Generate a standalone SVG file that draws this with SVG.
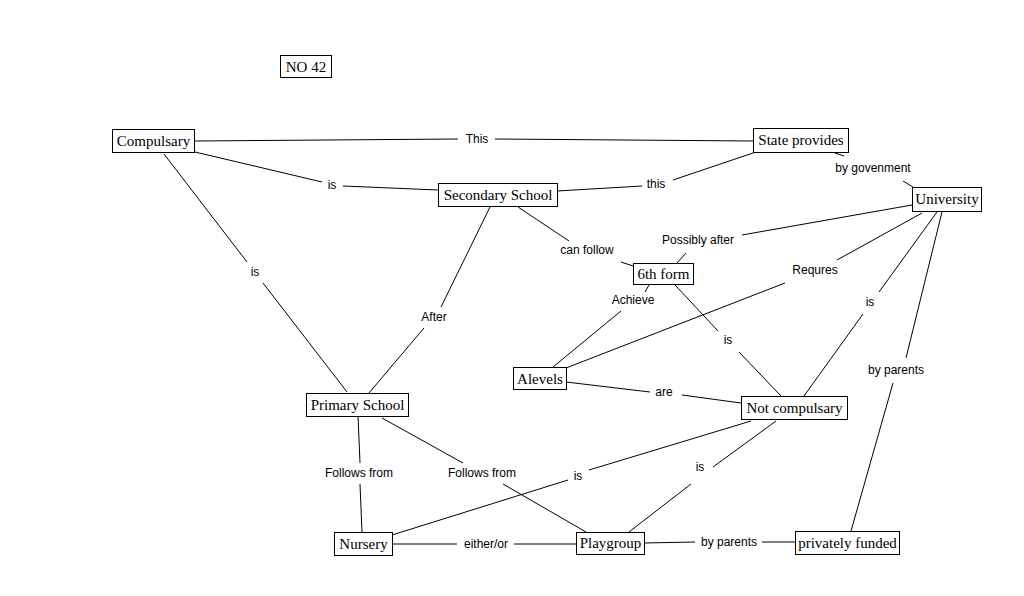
<svg xmlns="http://www.w3.org/2000/svg" width="1024" height="596" viewBox="0 0 1024 596">
<style>
.bg{fill:#fff}
.box{fill:#fff;stroke:#000;stroke-width:1}
.nt{font-family:"Liberation Serif","Times New Roman",serif;font-size:15px;fill:#000;text-anchor:middle}
.ln{stroke:#000;stroke-width:1;fill:none}
.lb{font-family:"Liberation Sans",Arial,sans-serif;font-size:12px;fill:#000;text-anchor:middle}
</style>
<rect class="bg" x="0" y="0" width="1024" height="596"/>
<g id="connectors">
<path class="ln" d="M194,141 L458,139 M495,139 L753,141"/>
<text class="lb" x="477" y="143">This</text>
<path class="ln" d="M195,152 L322,182 M343,186 L438,190"/>
<text class="lb" x="332" y="189">is</text>
<path class="ln" d="M164,154 L247,262 M263,283 L347,392"/>
<text class="lb" x="255" y="276">is</text>
<path class="ln" d="M490,207 L441,307 M424,328 L369,393"/>
<text class="lb" x="434" y="321">After</text>
<path class="ln" d="M557,191 L642,186 M673,180 L756,152"/>
<text class="lb" x="656" y="188">this</text>
<path class="ln" d="M518,207 L569,241 M621,262 L633,266"/>
<text class="lb" x="587" y="254">can follow</text>
<path class="ln" d="M835,153 L844,156 M903,181 L913,187"/>
<text class="lb" x="873" y="172">by govenment</text>
<path class="ln" d="M912,205 L742,235 M686,253 L677,263"/>
<text class="lb" x="698" y="244">Possibly after</text>
<path class="ln" d="M922,213 L837,260 M785,283 L566,368"/>
<text class="lb" x="815" y="274">Requres</text>
<path class="ln" d="M937,212 L879,292 M863,314 L804,396"/>
<text class="lb" x="870" y="306">is</text>
<path class="ln" d="M942,212 L906,358 M893,383 L851,531"/>
<text class="lb" x="896" y="374">by parents</text>
<path class="ln" d="M649,285 L645,292 M621,311 L553,367"/>
<text class="lb" x="633" y="304">Achieve</text>
<path class="ln" d="M675,285 L718,331 M739,352 L781,396"/>
<text class="lb" x="728" y="344">is</text>
<path class="ln" d="M566,382 L650,392 M682,395 L741,403"/>
<text class="lb" x="664" y="396">are</text>
<path class="ln" d="M358,416 L360,463 M360,484 L362,532"/>
<text class="lb" x="359" y="477">Follows from</text>
<path class="ln" d="M382,418 L463,463 M503,484 L586,532"/>
<text class="lb" x="482" y="477">Follows from</text>
<path class="ln" d="M751,421 L589,470 M568,480 L392,535"/>
<text class="lb" x="578" y="480">is</text>
<path class="ln" d="M776,421 L713,467 M691,484 L629,532"/>
<text class="lb" x="700" y="471">is</text>
<path class="ln" d="M392,544 L457,544 M514,544 L576,544"/>
<text class="lb" x="486" y="548">either/or</text>
<path class="ln" d="M644,543 L695,542 M762,542 L795,542"/>
<text class="lb" x="729" y="546">by parents</text>
</g>
<g id="no42"><rect class="box" x="280.5" y="55.5" width="51" height="22"/><text class="nt" x="306" y="72">NO 42</text></g>
<g id="compulsary"><rect class="box" x="112.5" y="129.5" width="82" height="23"/><text class="nt" x="153.5" y="146">Compulsary</text></g>
<g id="secondary"><rect class="box" x="438.5" y="183.5" width="119" height="23"/><text class="nt" x="498" y="200">Secondary School</text></g>
<g id="state"><rect class="box" x="753.5" y="128.5" width="95" height="24"/><text class="nt" x="801" y="145">State provides</text></g>
<g id="university"><rect class="box" x="912.5" y="187.5" width="69" height="24"/><text class="nt" x="947" y="204">University</text></g>
<g id="sixth"><rect class="box" x="633.5" y="263.5" width="60" height="21"/><text class="nt" x="663.5" y="279">6th form</text></g>
<g id="alevels"><rect class="box" x="513.5" y="367.5" width="53" height="22"/><text class="nt" x="540" y="384">Alevels</text></g>
<g id="notcomp"><rect class="box" x="741.5" y="396.5" width="106" height="23"/><text class="nt" x="794.5" y="413">Not compulsary</text></g>
<g id="primary"><rect class="box" x="306.5" y="393.5" width="102" height="23"/><text class="nt" x="357.5" y="410">Primary School</text></g>
<g id="nursery"><rect class="box" x="334.5" y="532.5" width="58" height="23"/><text class="nt" x="363.5" y="549">Nursery</text></g>
<g id="playgroup"><rect class="box" x="576.5" y="532.5" width="68" height="22"/><text class="nt" x="610.5" y="548">Playgroup</text></g>
<g id="private"><rect class="box" x="795.5" y="531.5" width="104" height="23"/><text class="nt" x="847.5" y="548">privately funded</text></g>
</svg>
